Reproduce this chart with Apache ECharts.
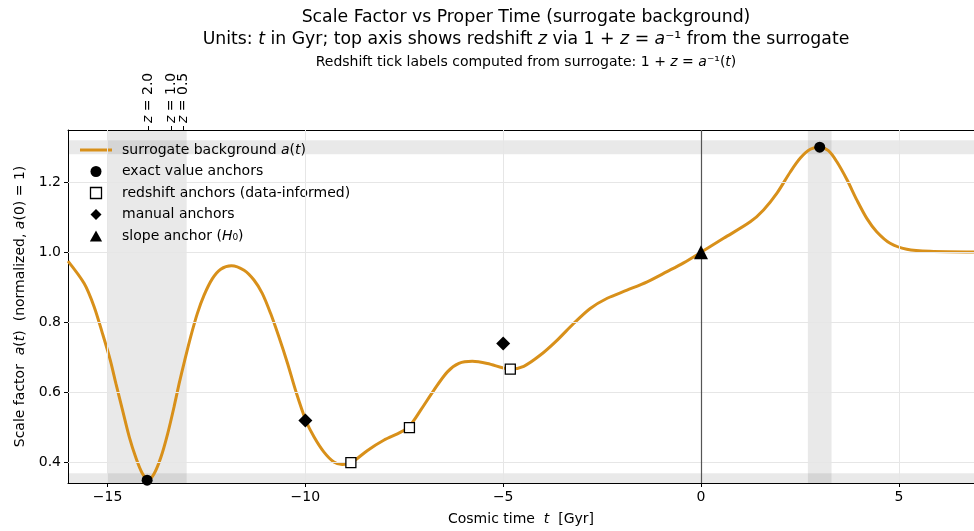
<!DOCTYPE html>
<html>
<head>
<meta charset="utf-8">
<script src="https://cdn.jsdelivr.net/npm/echarts@6/dist/echarts.min.js"></script>
<style>
  html, body { margin: 0; padding: 0; background: #fff; }
  #chart { width: 974px; height: 531px; }
</style>
</head>
<body>
<div id="chart"></div>
<script>
// surrogate curve a(t)
var tVals = [-16, -15.59, -15.34, -15.13, -14.93, -14.79, -14.62, -14.45, -14.29, -14.12, -13.97,
  -13.82, -13.65, -13.48, -13.32, -13.19, -13.05, -12.9, -12.73, -12.56, -12.35, -12.14, -11.87,
  -11.55, -11.3, -11.09, -10.88, -10.67, -10.45, -10.25, -9.99, -9.78, -9.53, -9.28, -9.07, -8.84,
  -8.43, -8.02, -7.59, -7.37, -7.09, -6.75, -6.41, -6.12, -5.78, -5.4, -4.82, -4.48, -4.06, -3.64,
  -3.22, -2.8, -2.37, -1.87, -1.36, -0.86, -0.44, 0, 0.57, 1.245, 1.58, 1.92, 2.26, 2.51, 2.76,
  2.995, 3.22, 3.43, 3.69, 3.94, 4.19, 4.44, 4.78, 5.2, 5.79, 6.9];
var aVals = [0.975, 0.911, 0.845, 0.769, 0.692, 0.626, 0.549, 0.473, 0.416, 0.369, 0.351,
  0.369, 0.416, 0.483, 0.559, 0.626, 0.692, 0.759, 0.826, 0.878, 0.925, 0.952, 0.962,
  0.949, 0.921, 0.883, 0.826, 0.759, 0.683, 0.607, 0.521, 0.473, 0.43, 0.402, 0.395, 0.40,
  0.435, 0.464, 0.487, 0.504, 0.549, 0.607, 0.659, 0.683, 0.689, 0.683, 0.667, 0.675, 0.707, 0.749,
  0.797, 0.84, 0.869, 0.892, 0.916, 0.945, 0.97, 1.0, 1.04, 1.087, 1.121, 1.169, 1.23, 1.269, 1.294,
  1.30, 1.29, 1.259, 1.207, 1.149, 1.097, 1.059, 1.026, 1.009, 1.003, 1.001];

var exactPts = [[-14, 0.35], [3, 1.30]];
var redshiftPts = [[-8.85, 0.40], [-7.37, 0.50], [-4.82, 0.667]];
var manualPts = [[-10, 0.52], [-5, 0.74]];
var slopePts = [[0, 1.0]];

var xTicks = [-15, -10, -5, 0, 5];
var yTicks = [0.4, 0.6, 0.8, 1.0, 1.2];
var zTickT = [-13.97, -13.40, -13.08];
var zTickLabels = ['2.0', '1.0', '0.5'];

var tBands = [[-15, -13], [2.7, 3.3]];
var aBands = [[0.33, 0.37], [1.28, 1.32]];

var FONT = 'DejaVu Sans';
var ORANGE = '#D8901A';
var FS = 14;

var curve = tVals.map(function (t, i) { return [t, aVals[i]]; });
var fmtMinus = function (v) { return v < 0 ? '\u2212' + Math.abs(v) : String(v); };
var italic = { fontFamily: FONT, fontStyle: 'italic', fontSize: FS, color: '#000' };

var legendText = {
  'surrogate background a(t)': 'surrogate background {i|a}({i|t})',
  'exact value anchors': 'exact value anchors',
  'redshift anchors (data-informed)': 'redshift anchors (data-informed)',
  'manual anchors': 'manual anchors',
  'slope anchor (H0)': 'slope anchor ({i|H}\u2080)'
};

// one top axis per redshift tick so none of the close labels gets hidden
var topAxes = zTickT.map(function (t, i) {
  return {
    type: 'value', min: -16, max: 6.9, position: 'top',
    axisLine: { show: i === 0, onZero: false, lineStyle: { color: '#000', width: 1 } },
    axisTick: { customValues: [t], length: 4, lineStyle: { color: '#000' } },
    axisLabel: {
      customValues: [t], rotate: -90, fontSize: FS, color: '#000', margin: 7,
      formatter: function () { return '{i|z} = ' + zTickLabels[i]; },
      rich: { i: italic }
    },
    splitLine: { show: false }
  };
});

var chart = echarts.init(document.getElementById('chart'));
var option = {
  animation: false,
  textStyle: { fontFamily: FONT },
  title: [
    { text: 'Scale Factor vs Proper Time (surrogate background)', left: 521, textAlign: 'center', top: 4,
      textStyle: { fontFamily: FONT, fontSize: 17.3, fontWeight: 'normal', color: '#000' } },
    { text: 'Units: {i|t} in Gyr; top axis shows redshift {i|z} via 1 + {i|z} = {i|a}\u207B\u00B9 from the surrogate',
      left: 521, textAlign: 'center', top: 26,
      textStyle: { fontFamily: FONT, fontSize: 17.3, fontWeight: 'normal', color: '#000',
        rich: { i: { fontFamily: FONT, fontStyle: 'italic', fontSize: 17.3, color: '#000' } } } },
    { text: 'Redshift tick labels computed from surrogate: 1 + {i|z} = {i|a}\u207B\u00B9({i|t})',
      left: 521, textAlign: 'center', top: 50,
      textStyle: { fontFamily: FONT, fontSize: FS, fontWeight: 'normal', color: '#000',
        rich: { i: italic } } }
  ],
  grid: { left: 68, right: 0, top: 130, bottom: 48, containLabel: false },
  legend: {
    orient: 'vertical', left: 80, top: 143, padding: 0,
    itemWidth: 32, itemHeight: 11, itemGap: 7.5,
    textStyle: { fontFamily: FONT, fontSize: FS, color: '#000', padding: [0, 0, 0, 5], rich: { i: italic } },
    formatter: function (name) { return legendText[name]; },
    data: [
      { name: 'surrogate background a(t)', icon: 'path://M0,0H32V3H0Z', itemStyle: { color: ORANGE, borderWidth: 0, opacity: 1 } },
      { name: 'exact value anchors', icon: 'path://M5,0A5,5,0,1,1,5,10A5,5,0,1,1,5,0Z', itemStyle: { color: '#000', borderWidth: 0, opacity: 1 } },
      { name: 'redshift anchors (data-informed)', icon: 'path://M0,0H9V9H0Z', itemStyle: { color: '#fff', borderColor: '#000', borderWidth: 1.3, opacity: 1 } },
      { name: 'manual anchors', icon: 'path://M5,0L10,5L5,10L0,5Z', itemStyle: { color: '#000', borderWidth: 0, opacity: 1 } },
      { name: 'slope anchor (H0)', icon: 'path://M5,0L10,9L0,9Z', itemStyle: { color: '#000', borderWidth: 0, opacity: 1 } }
    ]
  },
  xAxis: [
    {
      type: 'value', min: -16, max: 6.9, position: 'bottom',
      name: 'Cosmic time  {i|t}  [Gyr]', nameLocation: 'middle', nameGap: 29,
      nameTextStyle: { fontFamily: FONT, fontSize: FS, color: '#000', rich: { i: italic } },
      axisLine: { onZero: false, lineStyle: { color: '#000', width: 1 } },
      axisTick: { customValues: xTicks, length: 4, lineStyle: { color: '#000' } },
      axisLabel: { customValues: xTicks, formatter: fmtMinus, fontSize: FS, color: '#000', margin: 7 },
      splitLine: { show: false }
    }
  ].concat(topAxes),
  yAxis: {
    type: 'value', min: 0.342, max: 1.349,
    name: 'Scale factor  {i|a}({i|t})  (normalized, {i|a}(0) = 1)', nameLocation: 'middle', nameGap: 38,
    nameTextStyle: { fontFamily: FONT, fontSize: FS, color: '#000', rich: { i: italic } },
    axisLine: { show: true, onZero: false, lineStyle: { color: '#000', width: 1 } },
    axisTick: { show: true, customValues: yTicks, length: 4, lineStyle: { color: '#000' } },
    axisLabel: { customValues: yTicks, formatter: function (v) { return v.toFixed(1); }, fontSize: FS, color: '#000', margin: 7 },
    splitLine: { show: false }
  },
  series: [
    {
      name: 'bands', type: 'line', data: [], z: 1, silent: true,
      markArea: {
        silent: true,
        itemStyle: { color: 'rgba(0,0,0,0.085)' },
        data: tBands.map(function (b) { return [{ xAxis: b[0] }, { xAxis: b[1] }]; })
          .concat(aBands.map(function (b) { return [{ yAxis: b[0] }, { yAxis: b[1] }]; }))
      },
      markLine: {
        silent: true, symbol: 'none', label: { show: false },
        lineStyle: { color: '#e6e6e6', width: 1, type: 'solid' },
        data: xTicks.map(function (v) { return { xAxis: v }; })
          .concat(yTicks.map(function (v) { return { yAxis: v }; }))
      }
    },
    {
      name: 'zero', type: 'line', data: [], z: 2, silent: true,
      markLine: {
        silent: true, symbol: 'none', label: { show: false },
        lineStyle: { color: '#555', width: 1.2, type: 'solid' },
        data: [{ xAxis: 0 }]
      }
    },
    {
      name: 'surrogate background a(t)', type: 'line', data: curve, smooth: 0.3,
      showSymbol: false, z: 3,
      itemStyle: { color: ORANGE },
      lineStyle: { color: ORANGE, width: 3 }
    },
    {
      name: 'exact value anchors', type: 'scatter', data: exactPts, z: 5,
      symbol: 'circle', symbolSize: 11, itemStyle: { color: '#000', opacity: 1 }
    },
    {
      name: 'redshift anchors (data-informed)', type: 'scatter', data: redshiftPts, z: 5,
      symbol: 'rect', symbolSize: 10, itemStyle: { color: '#fff', borderColor: '#000', borderWidth: 1.3, opacity: 1 }
    },
    {
      name: 'manual anchors', type: 'scatter', data: manualPts, z: 5,
      symbol: 'diamond', symbolSize: 14, itemStyle: { color: '#000', opacity: 1 }
    },
    {
      name: 'slope anchor (H0)', type: 'scatter', data: slopePts, z: 5,
      symbol: 'triangle', symbolSize: 14, itemStyle: { color: '#000', opacity: 1 }
    }
  ]
};
chart.setOption(option);
</script>
</body>
</html>
